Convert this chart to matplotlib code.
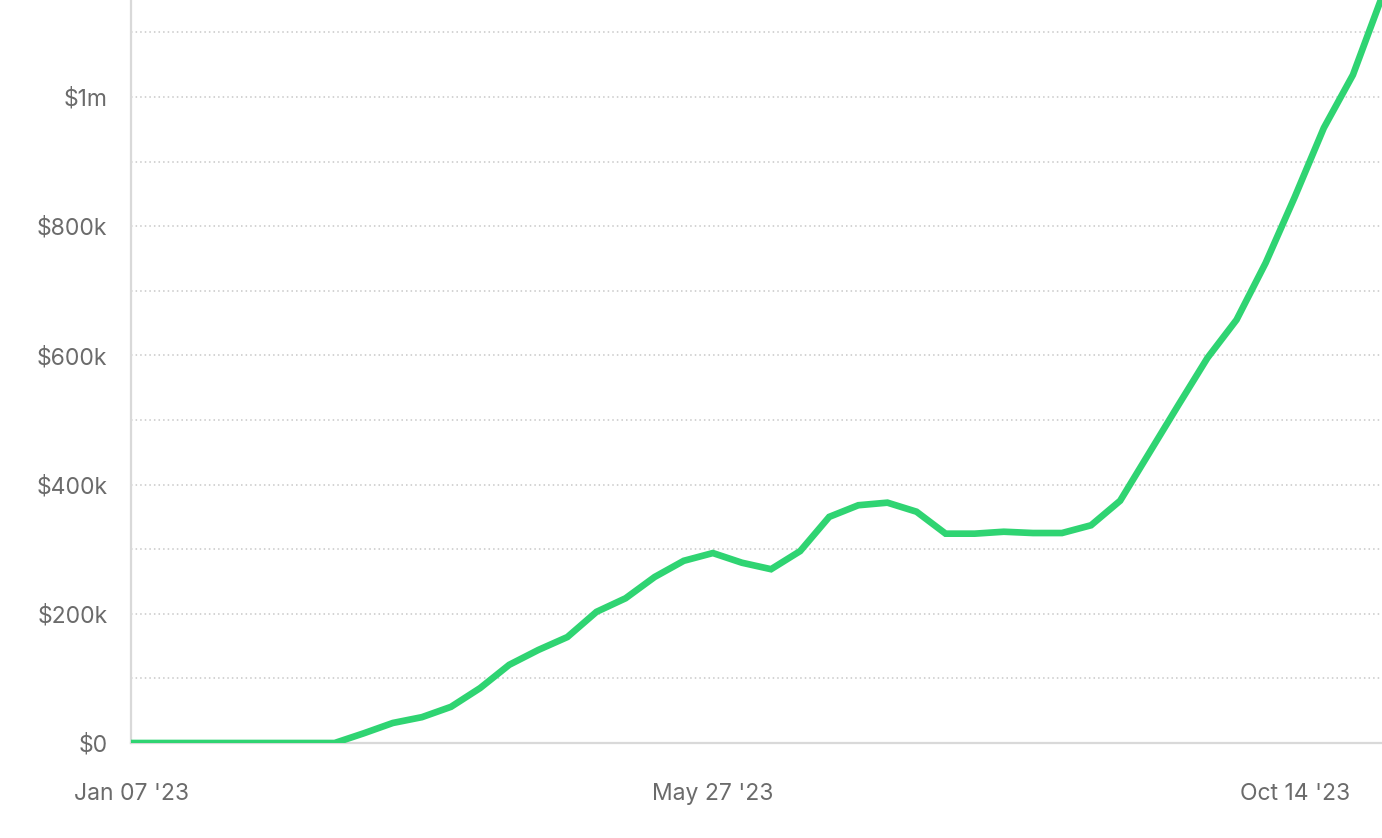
import numpy as np
import pandas as pd
import matplotlib
matplotlib.use("Agg")
import matplotlib.pyplot as plt
import matplotlib.dates as mdates
from matplotlib.ticker import FuncFormatter, MultipleLocator

# weekly values, Jan 07 '23 -> Oct 28 '23 (in $k)
weeks = pd.date_range("2023-01-07", periods=44, freq="7D")
values_k = [0, 0, 0, 0, 0, 0, 0, 0, 15, 31, 40, 56,
            85, 121, 144, 164, 203, 224, 257, 282, 294, 279, 269, 297,
            350, 368, 372, 358, 324, 324, 327, 325, 325, 337, 375, 449,
            523, 596, 655, 743, 845, 952, 1034, 1155]
tick_dates = ["2023-01-07", "2023-05-27", "2023-10-14"]

line_color = "#2fd472"
text_color = "#6b6b6b"

plt.rcParams['font.family'] = ['Inter', 'DejaVu Sans']

fig = plt.figure(figsize=(13.82, 8.38), dpi=100)
ax = fig.add_axes([131 / 1382, 95 / 838, 1 - 131 / 1382, 743 / 838])

vals = np.array(values_k) * 1000
ax.plot(weeks, vals, color=line_color, lw=4.8, solid_joinstyle="miter",
        solid_capstyle="round", zorder=3, clip_on=True)

ax.set_xlim(weeks[0], weeks[-1])
ax.set_ylim(0, 1150000)

# y axis: labels every 200k, dotted grid every 100k
ax.yaxis.set_major_locator(MultipleLocator(200000))
ax.yaxis.set_minor_locator(MultipleLocator(100000))

def money(v, pos):
    if v == 0:
        return "$0"
    if v >= 1000000:
        return f"${v / 1000000:g}m"
    return f"${v / 1000:g}k"

ax.yaxis.set_major_formatter(FuncFormatter(money))
ax.grid(True, which="both", axis="y", color="#c8c8c8", linestyle=(0, (1, 2)), lw=1.1)
ax.grid(False, axis="x")

ax.set_xticks(pd.to_datetime(tick_dates))
ax.xaxis.set_major_formatter(mdates.DateFormatter("%b %d '%y"))

ax.tick_params(axis="y", which="both", length=0, pad=17, labelsize=16.5, labelcolor=text_color)
ax.tick_params(axis="x", length=0, pad=28.5, labelsize=16.5, labelcolor=text_color)

for side in ["top", "right"]:
    ax.spines[side].set_visible(False)
for side in ["left", "bottom"]:
    ax.spines[side].set_color("#d9d9d9")
    ax.spines[side].set_linewidth(1.6)

fig.savefig("out.png", dpi=100)
